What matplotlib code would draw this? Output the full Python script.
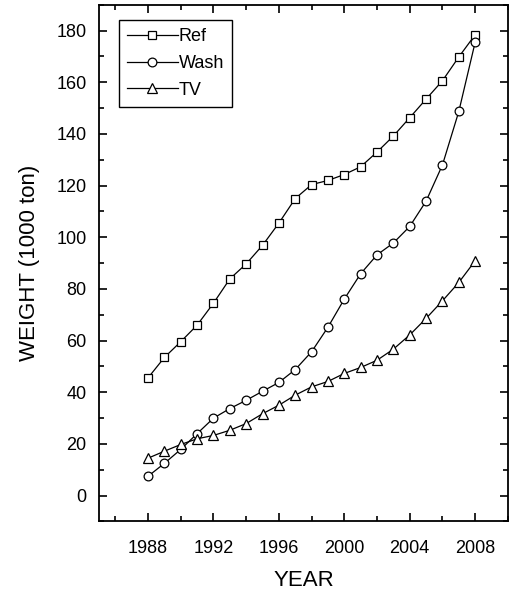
import matplotlib
matplotlib.use("Agg")
import matplotlib.pyplot as plt
from matplotlib.ticker import MultipleLocator

plt.rcParams['font.family'] = ['Liberation Sans', 'DejaVu Sans']

years = list(range(1988, 2009))
ref = [45.6, 53.5, 59.6, 66.0, 74.5, 83.9, 89.7, 96.9, 105.5, 115.0, 120.4, 122.0,
       124.3, 127.3, 133.0, 139.2, 146.3, 153.5, 160.6, 169.8, 178.4]
wash = [7.5, 12.5, 17.9, 24.0, 30.0, 33.7, 36.9, 40.4, 43.8, 48.8, 55.7, 65.2,
        76.1, 85.9, 93.2, 97.8, 104.2, 114.0, 128.0, 148.7, 175.5]
tv = [14.5, 17.2, 19.8, 22.0, 23.3, 25.3, 27.9, 31.7, 35.0, 38.9, 42.1, 44.2,
      47.3, 49.6, 52.4, 56.7, 62.2, 68.6, 75.4, 82.5, 90.9]
xticks = [1988, 1992, 1996, 2000, 2004, 2008]

fig = plt.figure(figsize=(5.13, 5.98), dpi=100)
ax = fig.add_axes([0.193, 0.128, 0.797, 0.864])

common = dict(color='black', lw=0.9, markerfacecolor='white', markeredgecolor='black',
              markeredgewidth=0.9)
ax.plot(years, ref, marker='s', ms=6.0, label='Ref', **common)
ax.plot(years, wash, marker='o', ms=6.3, label='Wash', **common)
ax.plot(years, tv, marker='^', ms=7.0, label='TV', **common)

ax.set_xlim(1985, 2010)
ax.set_ylim(-10, 190)
ax.set_xticks(xticks)
ax.xaxis.set_minor_locator(MultipleLocator(2))
ax.yaxis.set_major_locator(MultipleLocator(20))
ax.yaxis.set_minor_locator(MultipleLocator(10))
ax.tick_params(which='both', direction='in', top=True, right=True, labelsize=13,
               width=1.2)
ax.tick_params(which='major', length=6)
ax.tick_params(which='minor', length=3.5)
ax.tick_params(axis='x', pad=13)
ax.tick_params(axis='y', pad=9)
for s in ax.spines.values():
    s.set_linewidth(1.3)

ax.set_xlabel('YEAR', fontsize=16, labelpad=10)
ax.set_ylabel('WEIGHT (1000 ton)', fontsize=16, labelpad=12)

leg = ax.legend(loc='upper left', bbox_to_anchor=(0.049, 0.971), numpoints=1,
                fontsize=13, handlelength=2.8, handletextpad=0.05,
                labelspacing=0.55, borderpad=0.45, borderaxespad=0, fancybox=False,
                framealpha=1, edgecolor='black')
leg.get_frame().set_linewidth(1.0)

fig.savefig('out.png', dpi=100)
